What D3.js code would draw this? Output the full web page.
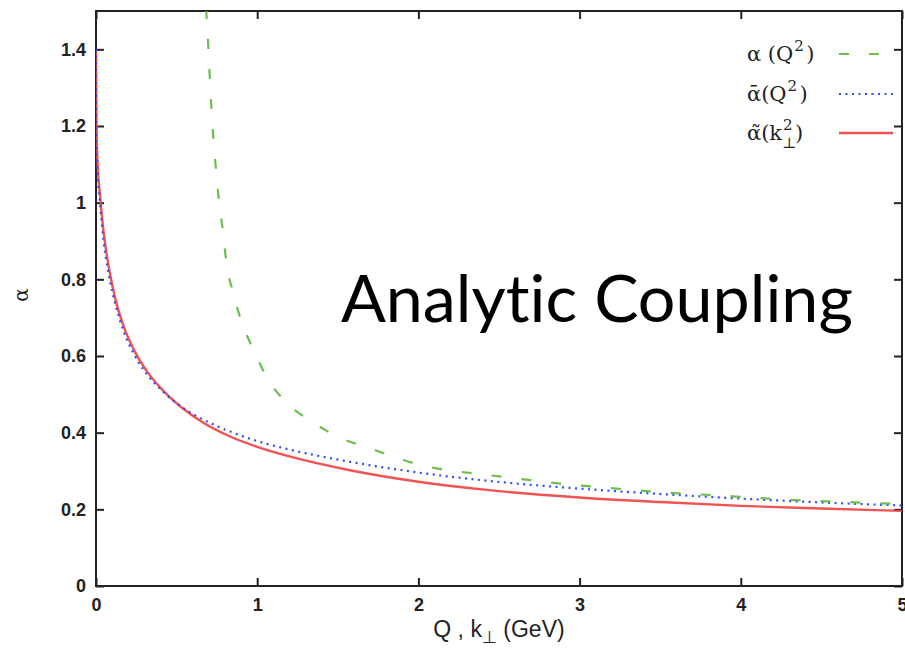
<!DOCTYPE html>
<html>
<head>
<meta charset="utf-8">
<script src="https://d3js.org/d3.v7.min.js"></script>
<style>
  body { margin: 0; background: #fff; }
</style>
</head>
<body>
<div id="chart"></div>
<script>
// values
const xTicks = [0, 1, 2, 3, 4, 5];
const yTicks = [0, 0.2, 0.4, 0.6, 0.8, 1, 1.2, 1.4];

// alpha(Q^2), one-loop (green dashed)
const alphaQ = [0.683, 0.697, 0.706, 0.716, 0.728, 0.745, 0.763, 0.788, 0.81, 0.85, 0.904, 0.975, 1.067, 1.18, 1.346, 1.51, 1.69, 1.86, 2.06, 2.26, 2.44, 2.64, 2.82, 3.01, 3.23, 3.44, 3.64, 3.83, 4.02, 4.21, 4.40, 4.59, 4.78, 5.0];
const alphaV = [1.505, 1.403, 1.325, 1.246, 1.168, 1.084, 1.003, 0.924, 0.84, 0.767, 0.688, 0.618, 0.539, 0.479, 0.427, 0.387, 0.361, 0.335, 0.311, 0.298, 0.289, 0.279, 0.270, 0.262, 0.254, 0.247, 0.241, 0.237, 0.232, 0.227, 0.223, 0.220, 0.217, 0.214];

// analytic alpha-bar(Q^2) (blue dotted)
const barQ = [0, 0.001, 0.003, 0.006, 0.027, 0.047, 0.078, 0.12, 0.171, 0.233, 0.316, 0.409, 0.522, 0.666, 0.832, 1.0, 1.2, 1.575, 2.0, 2.44, 3.0, 3.5, 4.0, 4.5, 5.0];
const barV = [1.40, 1.28, 1.17, 1.11, 0.99, 0.90, 0.815, 0.735, 0.665, 0.607, 0.552, 0.510, 0.470, 0.434, 0.403, 0.378, 0.356, 0.324, 0.296, 0.274, 0.254, 0.240, 0.228, 0.218, 0.210];

// alpha-tilde(k_perp^2) (red solid)
const tilK = [0, 0.001, 0.003, 0.006, 0.027, 0.047, 0.078, 0.12, 0.171, 0.233, 0.316, 0.409, 0.522, 0.666, 0.832, 1.0, 1.2, 1.575, 2.0, 2.44, 3.0, 3.5, 4.0, 4.5, 5.0];
const tilV = [1.40, 1.30, 1.20, 1.14, 1.01, 0.924, 0.835, 0.749, 0.678, 0.618, 0.560, 0.513, 0.469, 0.426, 0.390, 0.363, 0.338, 0.302, 0.272, 0.250, 0.231, 0.219, 0.209, 0.202, 0.196];

function drawChart({ containerId, width, height }) {
    const margin = { top: 11, right: 3, bottom: 64, left: 96 };
    const innerW = width - margin.left - margin.right;
    const innerH = height - margin.top - margin.bottom;

    const svg = d3.select(containerId).append("svg")
        .attr("width", width)
        .attr("height", height);

    const x = d3.scaleLinear().domain([0, 5]).range([0, innerW]);
    const y = d3.scaleLinear().domain([0, 1.5]).range([innerH, 0]);

    const g = svg.append("g").attr("transform", `translate(${margin.left},${margin.top})`);

    g.append("clipPath").attr("id", "plot-clip")
        .append("rect").attr("width", innerW).attr("height", innerH);

    const tickFont = "'Liberation Sans', Arial, sans-serif";

    // axes, ticks pointing inward, mirrored on top/right
    const styleAxis = sel => {
        sel.select(".domain").remove();
        sel.selectAll("line").attr("stroke", "#222").attr("stroke-width", 2);
        sel.selectAll("text").attr("font-family", tickFont).attr("font-weight", "bold")
            .attr("font-size", "18px").attr("fill", "#222");
    };

    g.append("g").attr("transform", `translate(0,${innerH})`)
        .call(d3.axisBottom(x).tickValues(xTicks).tickFormat(d3.format("d")).tickSize(-8).tickPadding(12))
        .call(styleAxis);
    g.append("g")
        .call(d3.axisTop(x).tickValues(xTicks).tickFormat("").tickSize(-8))
        .call(styleAxis);
    g.append("g")
        .call(d3.axisLeft(y).tickValues(yTicks).tickFormat(d => d3.format("~g")(d)).tickSize(-8).tickPadding(10))
        .call(styleAxis);
    g.append("g").attr("transform", `translate(${innerW},0)`)
        .call(d3.axisRight(y).tickValues(yTicks).tickFormat("").tickSize(-8))
        .call(styleAxis);

    g.append("rect")
        .attr("width", innerW).attr("height", innerH)
        .attr("fill", "none").attr("stroke", "#222").attr("stroke-width", 2);

    const series = [
        { xs: alphaQ, ys: alphaV, color: "#66bb44", dash: "10,20", width: 2.2, opacity: 0.95 },
        { xs: barQ, ys: barV, color: "#2d4cff", dash: "2,4.5", width: 2.2, opacity: 1 },
        { xs: tilK, ys: tilV, color: "#ee4040", dash: null, width: 2.4, opacity: 0.9 }
    ];

    const line = d3.line()
        .x(d => x(d[0]))
        .y(d => y(d[1]))
        .curve(d3.curveMonotoneX);

    const plot = g.append("g").attr("clip-path", "url(#plot-clip)");
    // draw red first so dotted blue sits on top
    [series[2], series[1], series[0]].forEach(s => {
        plot.append("path")
            .datum(d3.zip(s.xs, s.ys))
            .attr("d", line)
            .attr("fill", "none")
            .attr("stroke", s.color)
            .attr("stroke-width", s.width)
            .attr("stroke-opacity", s.opacity)
            .attr("stroke-dasharray", s.dash);
    });

    // legend
    const legFont = "'DejaVu Serif', serif";
    const legend = svg.append("g").attr("font-family", legFont).attr("font-size", "21px").attr("fill", "#222");
    const rows = [
        { base: "\u03b1 (Q", sup: "2", sub: null, s: series[0], y: 54 },
        { base: "\u03b1\u0304(Q", sup: "2", sub: null, s: series[1], y: 94 },
        { base: "\u03b1\u0303(k", sup: "2", sub: "\u22a5", s: series[2], y: 133 }
    ];
    rows.forEach(r => {
        const t = legend.append("text").attr("x", 747).attr("y", r.y + 7).text(r.base);
        const w = t.node().getComputedTextLength();
        legend.append("text").attr("x", 747 + w + 1).attr("y", r.y - 3)
            .attr("font-size", "15px").text(r.sup);
        if (r.sub) {
            legend.append("text").attr("x", 747 + w).attr("y", r.y + 15)
                .attr("font-size", "15px").text(r.sub);
        }
        legend.append("text").attr("x", 747 + w + 13).attr("y", r.y + 7).text(")");
        legend.append("line")
            .attr("x1", 839).attr("x2", 893)
            .attr("y1", r.y).attr("y2", r.y)
            .attr("stroke", r.s.color)
            .attr("stroke-width", r.s.width)
            .attr("stroke-opacity", r.s.opacity)
            .attr("stroke-dasharray", r.s.dash);
    });

    // axis titles
    const xt = svg.append("text")
        .attr("x", 499).attr("y", 637)
        .attr("text-anchor", "middle")
        .attr("font-family", tickFont).attr("font-size", "23px").attr("fill", "#222");
    xt.append("tspan").text("Q , k");
    xt.append("tspan").attr("font-size", "17px").attr("dy", 6).text("\u22a5");
    xt.append("tspan").attr("dy", -6).text(" (GeV)");

    svg.append("text")
        .attr("transform", "translate(28,295) rotate(-90)")
        .attr("text-anchor", "middle")
        .attr("font-family", legFont).attr("font-size", "20px").attr("fill", "#222")
        .text("\u03b1");

    // overlaid caption, sized so it spans the same width as the reference
    const caption = svg.append("text")
        .attr("x", 341).attr("y", 322)
        .attr("font-family", "Lato, 'Open Sans', sans-serif")
        .attr("font-size", "78px")
        .attr("fill", "#000")
        .style("font-variant-ligatures", "none")
        .text("Analyt\u200Cic Coupling");
    const cw = caption.node().getComputedTextLength();
    caption.attr("font-size", (78 * 512 / cw).toFixed(1) + "px");
}

drawChart({ containerId: "#chart", width: 905, height: 650 });
</script>
</body>
</html>
